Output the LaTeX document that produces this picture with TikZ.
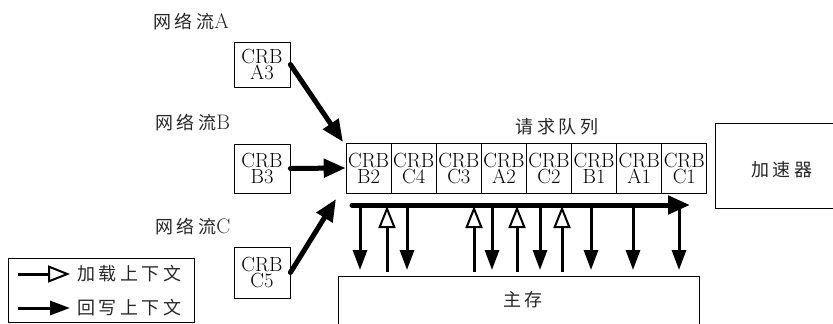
\documentclass[tikz,border=0pt]{standalone}
\usepackage{fontspec}
\newfontfamily\cjk[LetterSpace=20]{Noto Sans CJK SC}
\usetikzlibrary{arrows.meta,calc}
\newcommand{\latn}[1]{{\normalfont\fontsize{21}{18}\selectfont #1}}
\begin{document}
\begin{tikzpicture}[x=1pt,y=-1pt,
  box/.style={draw,line width=0.8pt,inner sep=0pt,align=center,font=\fontsize{20.5}{16}\selectfont},
  cell/.style={box,minimum width=45pt,minimum height=50pt},
  smallbox/.style={box,minimum width=56pt},
  lbl/.style={inner sep=0pt,text=black!85,font=\fontsize{18}{18}\selectfont\cjk},
  bigarrow/.style={line width=5pt,line cap=round,-{Triangle[length=22pt,width=18pt]}},
  wb/.style={line width=3pt,-{Triangle[length=20pt,width=14pt]}},
  ld/.style={line width=3pt,-{Triangle[open,length=22pt,width=17pt,fill=white,line width=2pt]}},
]
\useasboundingbox (0,0) rectangle (833,324);
\begin{scope}
\clip (0,0) rectangle (833,324);
\node[box,minimum width=134pt,minimum height=85pt] (acc) at (782,165.5) {};
\node[lbl] at (782,170) {加速器};
\node[box,minimum width=361pt,minimum height=49pt] (mem) at (518.5,300.5) {};
\node[lbl] at (523,300) {主存};
\end{scope}

% queue
\foreach \i/\t [count=\k] in {B2,C4,C3,A2,C2,B1,A1,C1}{
  \node[cell] (q\k) at ({346+22.6+(\k-1)*45.1},168) {CRB\\\t};
}
\node[lbl] at (557,127) {请求队列};

% streams
\node[lbl,anchor=west] (la) at (153,22) {网络流\latn{A}};
\node[lbl,anchor=west] (lb) at (155,123) {网络流\latn{B}};
\node[lbl,anchor=west] (lc) at (155,227) {网络流\latn{C}};
\node[smallbox,minimum height=45pt] (a3) at (262,64.5) {CRB\\A3};
\node[smallbox,minimum height=49pt] (b3) at (262,168.5) {CRB\\B3};
\node[smallbox,minimum height=51pt] (c5) at (262,272.5) {CRB\\C5};

\coordinate (tipA) at (343,142);
\coordinate (tipC) at (336,199);
\draw[bigarrow] (a3.east) -- (tipA);
\draw[bigarrow] (b3.east) -- (q1.west);
\draw[bigarrow] (c5.east) -- (tipC);

% horizontal arrow
\coordinate (hs) at (352,205);
\coordinate (he) at (690,205);
\draw[bigarrow] (hs) -- (he);

% vertical arrows
\foreach \x in {360,407,492,540,591,633,679}{
  \draw[wb] (\x,208) -- (\x,270);
}
\foreach \x in {387,474,517,562}{
  \draw[ld] (\x,272) -- (\x,206);
}

% legend
\node[draw,line width=0.8pt,minimum width=186pt,minimum height=64pt,inner sep=0pt] (leg) at (101,290) {};
\coordinate (l1s) at (18,274);
\coordinate (l1e) at (70,274);
\coordinate (l2s) at (18,308);
\coordinate (l2e) at (70,308);
\draw[ld] (l1s) -- (l1e);
\draw[wb] (l2s) -- (l2e);
\node[lbl,anchor=west] (t1) at (77,274) {加载上下文};
\node[lbl,anchor=west] (t2) at (77,308) {回写上下文};
\end{tikzpicture}
\end{document}
